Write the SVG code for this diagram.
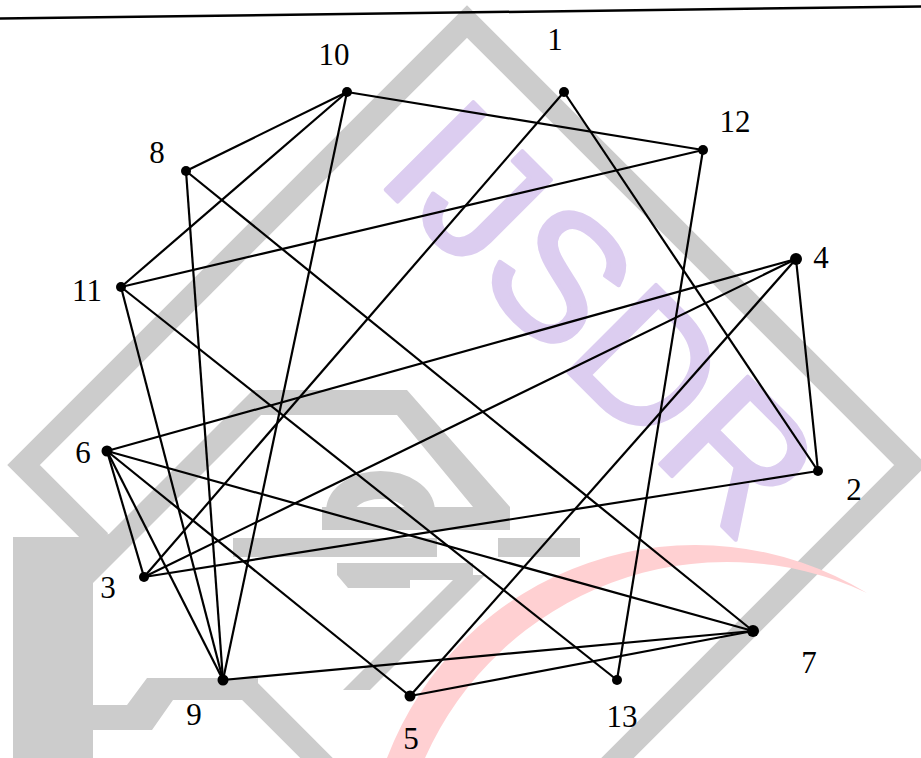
<svg xmlns="http://www.w3.org/2000/svg" width="921" height="758" viewBox="0 0 921 758">
<style>
.wm{fill:#cccccc}
.edge{stroke:#000;stroke-width:2.2;fill:none}
.dot{fill:#000}
.lbl{font-family:"Liberation Serif","Times New Roman",serif;font-size:31px;fill:#000;text-anchor:middle}
</style>
<rect width="921" height="758" fill="#fff"/>
<g id="watermark">
  <path d="M100,541.5 L23.5,465 L467,21.5 L910.5,465 L467,908.5 L250,691.5" fill="none" stroke="#cccccc" stroke-width="23" stroke-linejoin="miter"/>
  <polygon class="wm" points="13,537 79,537 109,534 253,390 407,390 510,507 510,530 322,530 322,507 473,507 397,415 261,415 93,583 93,758 13,758"/>
  <polygon class="wm" points="93,705 127,705 147,678 258,678 258,700 173,700 152,730 93,730"/>
  <path d="M340,512 A40.5 27 0 0 1 421,512" fill="none" stroke="#cccccc" stroke-width="28"/>
  <rect class="wm" x="233" y="538" width="204" height="19"/>
  <rect class="wm" x="498" y="538" width="82" height="19"/>
  <polygon class="wm" points="337,563 473,563 473,580 410,580 410,588 348,588 337,575"/>
  <polygon class="wm" points="458,575 485,575 370,690 343,690"/>
  <path d="M387,758 A330 330 0 0 1 867,593 A330.6 330.6 0 0 0 425,758 Z" fill="#ffd0d2"/>
  <text x="374" y="178" transform="rotate(45 374 178)" font-family="Liberation Sans, Arial, sans-serif" font-size="180" fill="#dccdf0" stroke="#dccdf0" stroke-width="4" stroke-linejoin="round">IJSDR</text>
</g>
<line x1="0" y1="18.5" x2="921" y2="6.5" stroke="#000" stroke-width="2.5"/>
<g id="connectors">
  <line class="edge" x1="347" y1="92" x2="703" y2="150"/>
  <line class="edge" x1="347" y1="92" x2="186" y2="171"/>
  <line class="edge" x1="347" y1="92" x2="121" y2="287"/>
  <line class="edge" x1="347" y1="92" x2="223" y2="680"/>
  <line class="edge" x1="564" y1="92" x2="144" y2="577"/>
  <line class="edge" x1="564" y1="92" x2="818" y2="471"/>
  <line class="edge" x1="703" y1="150" x2="121" y2="287"/>
  <line class="edge" x1="703" y1="150" x2="617" y2="680"/>
  <line class="edge" x1="186" y1="171" x2="223" y2="680"/>
  <line class="edge" x1="186" y1="171" x2="753" y2="631"/>
  <line class="edge" x1="121" y1="287" x2="223" y2="680"/>
  <line class="edge" x1="121" y1="287" x2="617" y2="680"/>
  <line class="edge" x1="796" y1="259" x2="107" y2="451"/>
  <line class="edge" x1="796" y1="259" x2="144" y2="577"/>
  <line class="edge" x1="796" y1="259" x2="410" y2="696"/>
  <line class="edge" x1="796" y1="259" x2="818" y2="471"/>
  <line class="edge" x1="818" y1="471" x2="144" y2="577"/>
  <line class="edge" x1="107" y1="451" x2="144" y2="577"/>
  <line class="edge" x1="107" y1="451" x2="223" y2="680"/>
  <line class="edge" x1="107" y1="451" x2="410" y2="696"/>
  <line class="edge" x1="107" y1="451" x2="753" y2="631"/>
  <line class="edge" x1="223" y1="680" x2="753" y2="631"/>
  <line class="edge" x1="410" y1="696" x2="753" y2="631"/>
</g>
<g id="node1"><circle class="dot" cx="564" cy="92" r="5"/><text class="lbl" x="555" y="50">1</text></g>
<g id="node2"><circle class="dot" cx="818" cy="471" r="5"/><text class="lbl" x="854" y="500">2</text></g>
<g id="node3"><circle class="dot" cx="144" cy="577" r="5"/><text class="lbl" x="108" y="598">3</text></g>
<g id="node4"><circle class="dot" cx="796" cy="259" r="6"/><text class="lbl" x="821" y="268">4</text></g>
<g id="node5"><circle class="dot" cx="410" cy="696" r="5.5"/><text class="lbl" x="411" y="749">5</text></g>
<g id="node6"><circle class="dot" cx="107" cy="451" r="5.5"/><text class="lbl" x="83" y="463">6</text></g>
<g id="node7"><circle class="dot" cx="753" cy="631" r="6"/><text class="lbl" x="809" y="673">7</text></g>
<g id="node8"><circle class="dot" cx="186" cy="171" r="5"/><text class="lbl" x="157" y="163">8</text></g>
<g id="node9"><circle class="dot" cx="223" cy="680" r="5.5"/><text class="lbl" x="194" y="725">9</text></g>
<g id="node10"><circle class="dot" cx="347" cy="92" r="5"/><text class="lbl" x="334" y="65">10</text></g>
<g id="node11"><circle class="dot" cx="121" cy="287" r="5"/><text class="lbl" x="87" y="301">11</text></g>
<g id="node12"><circle class="dot" cx="703" cy="150" r="5"/><text class="lbl" x="735" y="132">12</text></g>
<g id="node13"><circle class="dot" cx="617" cy="680" r="5"/><text class="lbl" x="622" y="727">13</text></g>
</svg>
